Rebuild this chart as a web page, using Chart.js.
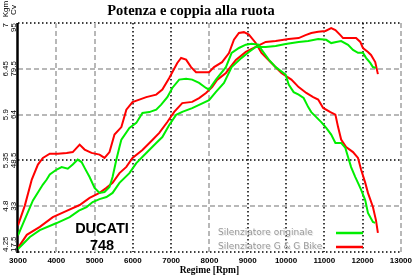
<!DOCTYPE html>
<html><head><meta charset="utf-8">
<script src="https://cdn.jsdelivr.net/npm/chart.js@4/dist/chart.umd.min.js"></script>
<style>html,body{margin:0;padding:0;background:#fff;overflow:hidden}canvas{display:block}</style>
</head><body>
<canvas id="c" width="416" height="278"></canvas>
<script>
// ---- data ----
const chartTitle = 'Potenza e coppia alla ruota';
const xTitle = 'Regime [Rpm]';
const seriesNames = ['Silenziatore originale', 'Silenziatore G & G Bike'];
const xTicks = [3000,4000,5000,6000,7000,8000,9000,10000,11000,12000,13000];
const kgmTicks = [4.25,4.8,5.35,5.9,6.45,7];
const cvTicks = [17.5,33,48.5,64,79.5,95];

// red = G & G Bike, torque (Kgm)
const rtRpm = [3000,3180,3360,3520,3650,3830,4040,4270,4430,4610,4740,4920,5130,5260,5390,5520,5700,5830,5990,6170,6350,6610,6770,6950,7160,7260,7390,7520,7650,7800,7990,8120,8330,8510,8640,8770,8900,9030,9210,9360,9620,9880,10140,10330,10530,10710,10840,10970,11160,11290,11360,11440,11570,11750,11880,11960,12070,12140,12270,12350,12400];
const rtKgm = [4.57,4.81,5.12,5.30,5.38,5.43,5.43,5.44,5.45,5.54,5.48,5.44,5.42,5.38,5.45,5.66,5.75,5.96,6.05,6.08,6.11,6.14,6.20,6.34,6.52,6.58,6.56,6.47,6.41,6.41,6.41,6.47,6.53,6.64,6.80,6.88,6.89,6.86,6.76,6.64,6.52,6.40,6.32,6.23,6.16,6.11,6.08,5.98,5.93,5.90,5.75,5.60,5.51,5.45,5.38,5.24,5.08,4.96,4.79,4.63,4.48];
// green = originale, torque (Kgm)
const gtRpm = [3000,3390,3650,3750,3830,4010,4140,4300,4430,4560,4660,4740,4870,5000,5130,5260,5390,5470,5570,5650,5700,5910,6090,6250,6430,6610,6740,6900,7030,7210,7390,7550,7730,7910,7990,8170,8430,8580,8770,8950,9100,9290,9360,9550,9730,9990,10070,10200,10330,10460,10580,10660,10790,10920,11050,11180,11290,11440,11550,11620,11700,11810,11880,11960,12070,12140,12270,12330];
const gtKgm = [4.45,4.87,5.06,5.12,5.18,5.24,5.27,5.25,5.30,5.36,5.33,5.26,5.15,5.02,4.96,4.97,5.03,5.15,5.36,5.51,5.60,5.74,5.80,5.92,5.93,5.96,6.02,6.11,6.22,6.32,6.33,6.32,6.28,6.22,6.20,6.32,6.47,6.64,6.70,6.74,6.75,6.74,6.68,6.56,6.47,6.38,6.26,6.17,6.14,6.10,5.99,5.93,5.87,5.81,5.74,5.66,5.56,5.56,5.50,5.39,5.27,5.15,5.08,5.00,4.87,4.72,4.61,4.60];
// red = G & G Bike, power (Cv)
const rpRpm = [3000,3230,3570,3910,4270,4610,4870,5130,5310,5470,5650,5830,5990,6250,6510,6690,6900,7080,7290,7550,7730,7910,8070,8200,8430,8690,8950,9210,9470,9730,10070,10330,10510,10660,10840,11030,11180,11290,11420,11490,11830,11940,12010,12140,12220,12330,12400];
const rpCv = [18.9,23.3,26.0,29.3,31.4,33.4,35.8,37.5,39.2,40.9,44.2,46.3,49.3,52.0,55.4,57.8,61.5,64.9,67.9,68.3,69.6,71.3,73.3,75.7,78.1,82.5,85.2,86.9,88.6,88.9,89.6,89.9,90.9,91.6,92.0,92.3,93.3,92.6,90.9,89.9,89.9,88.6,86.5,85.2,84.2,81.8,77.7];
// green = originale, power (Cv)
const gpRpm = [3000,3310,3570,4010,4350,4590,4790,4950,5130,5310,5470,5650,5910,6090,6350,6610,6770,6950,7130,7290,7550,7730,7990,8170,8380,8580,8840,9030,9210,9470,9730,9990,10330,10580,10840,11050,11180,11310,11440,11620,11750,11880,12010,12090,12200,12270,12350];
const gpCv = [18.5,22.6,24.9,27.3,29.3,31.5,32.7,34.4,35.4,36.1,37.5,40.9,44.2,47.6,51.0,54.4,56.4,60.5,63.9,64.9,66.2,67.3,68.9,71.7,74.7,80.1,83.2,85.2,86.9,86.9,87.2,87.9,88.6,88.9,89.6,89.3,88.2,88.6,88.9,87.6,85.9,84.9,84.9,83.2,81.5,80.1,79.8];

// ---- styles ----
const GREEN = '#00ee00', RED = '#ff0000';
const xGridStyle = ['solid','grey','grey','dot','dot','grey','dot','dot','dot','dot','grey'];
const yGridStyle = ['dot','grey','dot','grey','grey','dot'];
const lineStyles = {
  grey: {color:'#b8b8b8', width:2, dash:[5,3]},
  dot: {color:'#000000', width:1.5, dash:[1.5,2.5]},
  solid: {color:'#000000', width:2.5, dash:[]}
};

const pts = (xs, ys) => xs.map((x, i) => ({x, y: ys[i]}));

const decor = {
  id: 'decor',
  beforeDatasetsDraw(chart) {
    const {ctx, chartArea: a, scales} = chart;
    ctx.save();
    const drawLine = (s, x1, y1, x2, y2) => {
      ctx.beginPath();
      ctx.strokeStyle = s.color; ctx.lineWidth = s.width; ctx.setLineDash(s.dash);
      ctx.moveTo(x1, y1); ctx.lineTo(x2, y2); ctx.stroke();
    };
    kgmTicks.forEach((v, i) => {
      const py = Math.round(scales.y.getPixelForValue(v));
      drawLine(lineStyles[yGridStyle[i]], a.left, py, a.right, py);
    });
    xTicks.forEach((v, i) => {
      if (xGridStyle[i] === 'solid') return;
      const px = Math.round(scales.x.getPixelForValue(v));
      drawLine(lineStyles[xGridStyle[i]], px, a.top, px, a.bottom);
    });
    const px0 = scales.x.getPixelForValue(xTicks[0]);
    drawLine(lineStyles.solid, px0 - 0.5, a.top, px0 - 0.5, a.bottom + 1);
    ctx.restore();
  },
  afterDraw(chart) {
    const {ctx, chartArea: a, scales} = chart;
    ctx.save();
    ctx.fillStyle = '#000';
    // title
    ctx.font = 'bold 14.5px "Liberation Serif"';
    ctx.textAlign = 'center'; ctx.textBaseline = 'middle';
    ctx.fillText(chartTitle, 191, 11);
    // rotated y labels
    ctx.font = '8px "Liberation Sans"';
    const n = kgmTicks.length;
    const rot = (txt, x, y, align) => {
      ctx.save(); ctx.translate(x, y); ctx.rotate(-Math.PI / 2);
      ctx.textAlign = align; ctx.textBaseline = 'middle';
      ctx.fillText(txt, 0, 0); ctx.restore();
    };
    kgmTicks.forEach((v, i) => {
      const py = scales.y.getPixelForValue(v);
      const align = i === 0 ? 'left' : (i === n - 1 ? 'right' : 'center');
      rot(String(v), 5.5, py, align);
      rot(String(cvTicks[i]), 13.5, scales.y2.getPixelForValue(cvTicks[i]), align);
    });
    rot('Kgm', 5.5, 9, 'center');
    rot('Cv', 13.5, 10, 'center');
    // DUCATI 748
    ctx.font = 'bold 14.5px "Liberation Sans"';
    ctx.textAlign = 'center'; ctx.textBaseline = 'alphabetic';
    ctx.fillText('DUCATI', 102, 233);
    ctx.fillText('748', 102, 250);
    // legend
    ctx.font = '9px "DejaVu Sans"';
    ctx.textAlign = 'left'; ctx.textBaseline = 'middle';
    const cols = [GREEN, RED];
    const ly = [233, 247];
    seriesNames.forEach((name, i) => {
      ctx.fillStyle = '#e8e8e8';
      ctx.fillText(name, 219, ly[i] + 1);
      ctx.fillStyle = '#9a9a9a';
      ctx.fillText(name, 218, ly[i]);
      ctx.beginPath(); ctx.strokeStyle = cols[i]; ctx.lineWidth = 2.5;
      ctx.moveTo(336, ly[i]); ctx.lineTo(363, ly[i]); ctx.stroke();
    });
    ctx.restore();
  }
};

const common = {pointRadius: 0, borderWidth: 2, tension: 0, fill: false};
new Chart(document.getElementById('c'), {
  type: 'line',
  data: {
    datasets: [
      {...common, label: seriesNames[0] + ' Cv', data: pts(gpRpm, gpCv), borderColor: GREEN, yAxisID: 'y2'},
      {...common, label: seriesNames[0] + ' Kgm', data: pts(gtRpm, gtKgm), borderColor: GREEN, yAxisID: 'y'},
      {...common, label: seriesNames[1] + ' Cv', data: pts(rpRpm, rpCv), borderColor: RED, yAxisID: 'y2'},
      {...common, label: seriesNames[1] + ' Kgm', data: pts(rtRpm, rtKgm), borderColor: RED, yAxisID: 'y'}
    ]
  },
  options: {
    responsive: false, animation: false, devicePixelRatio: 1,
    layout: {padding: {left: 18, right: 13, top: 23, bottom: 0}},
    plugins: {legend: {display: false}, tooltip: {enabled: false}, title: {display: false}},
    scales: {
      x: {
        type: 'linear', min: xTicks[0], max: xTicks[xTicks.length - 1],
        afterBuildTicks: s => { s.ticks = xTicks.map(v => ({value: v})); },
        afterFit: s => { s.height = 26; },
        grid: {display: false, drawTicks: false}, border: {display: false},
        ticks: {color: '#000', font: {family: 'Liberation Sans', size: 8, weight: 'bold'}, padding: 4, maxRotation: 0, autoSkip: false, callback: v => String(v)},
        title: {display: true, text: xTitle, color: '#000', font: {family: 'Liberation Serif', size: 9.5, weight: 'bold'}, padding: {top: 0, bottom: 2}}
      },
      y: {type: 'linear', display: false, min: kgmTicks[0], max: kgmTicks[kgmTicks.length - 1]},
      y2: {type: 'linear', display: false, min: cvTicks[0], max: cvTicks[cvTicks.length - 1]}
    }
  },
  plugins: [decor]
});
</script>
</body></html>
